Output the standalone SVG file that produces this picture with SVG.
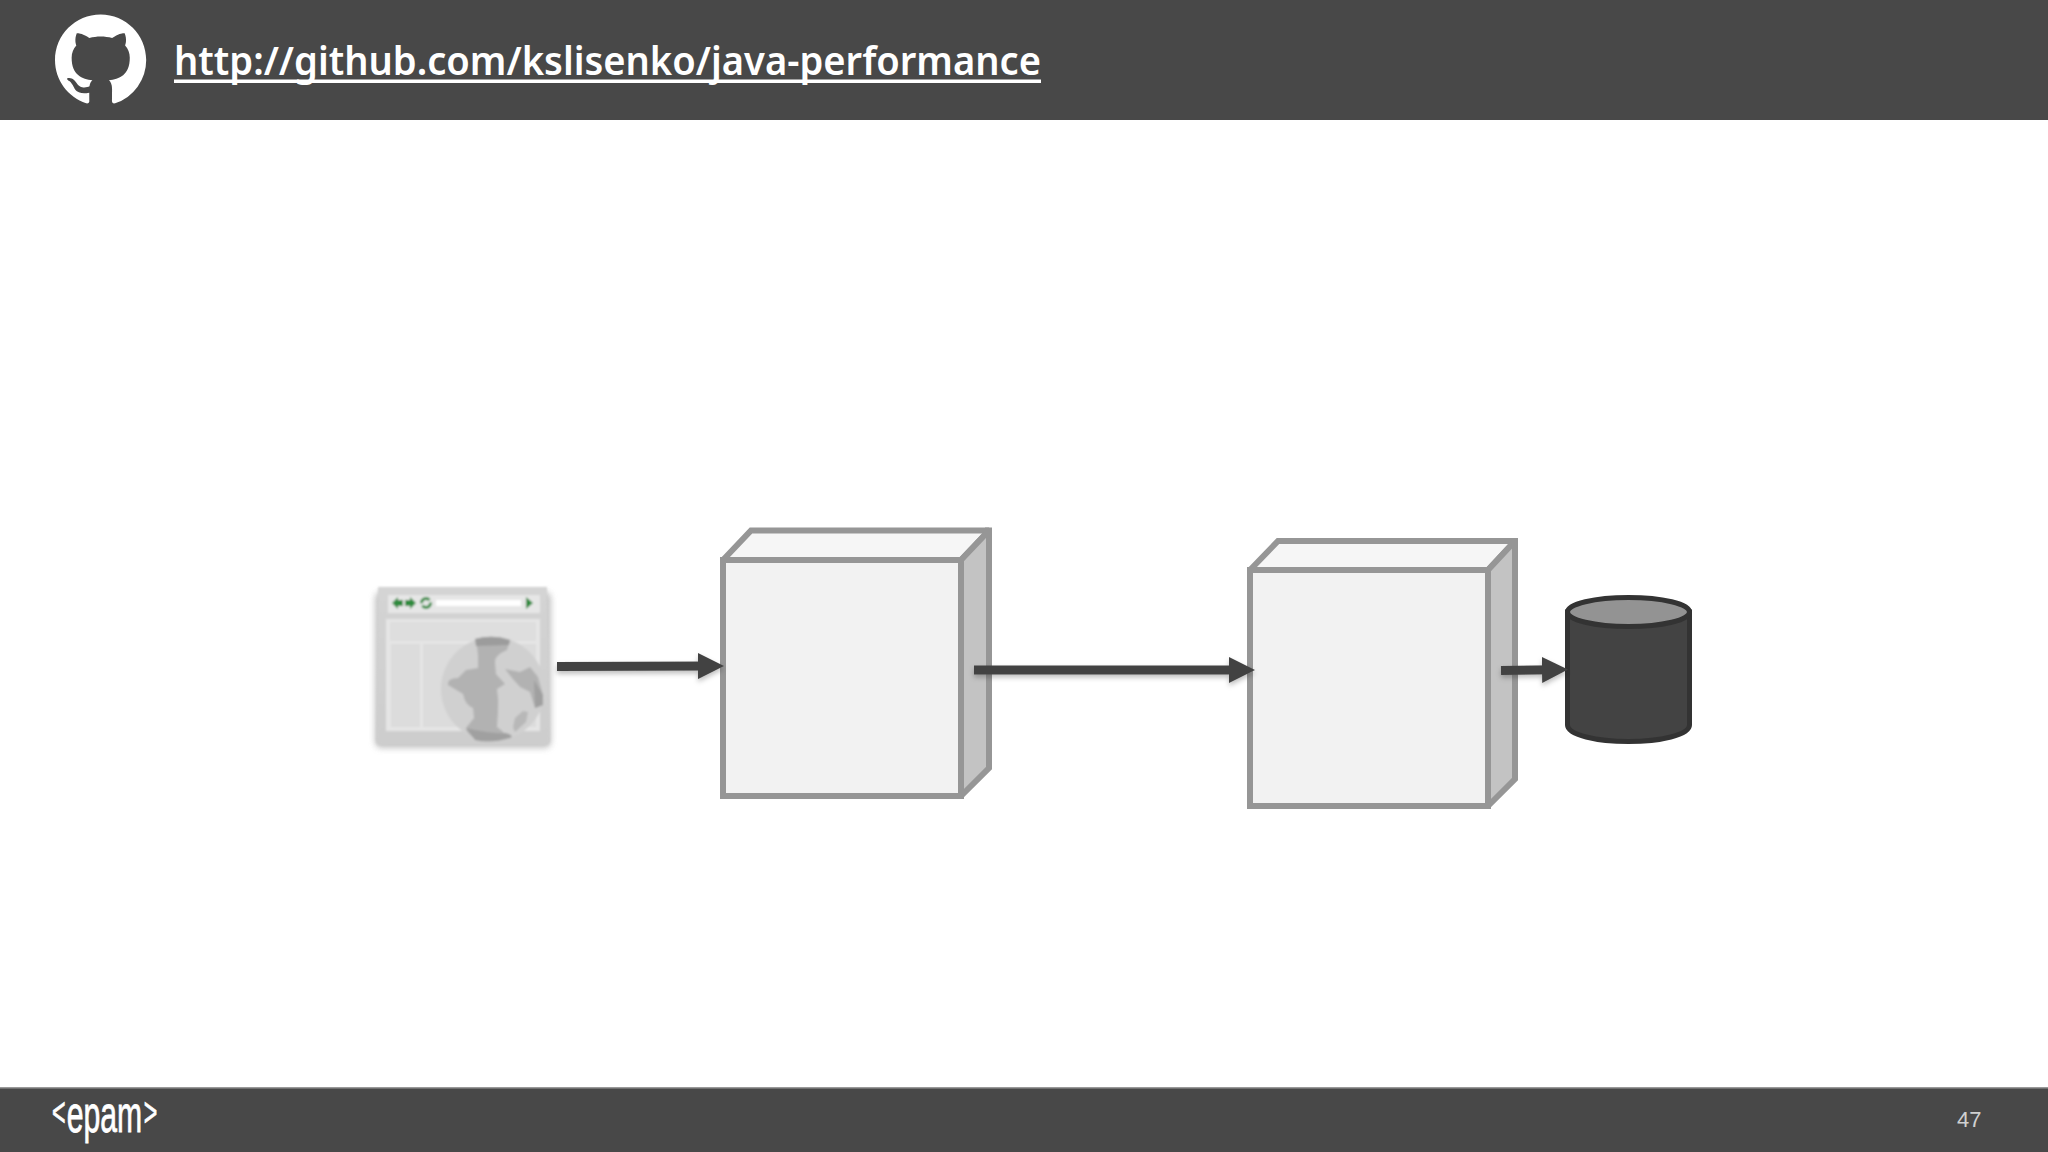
<svg xmlns="http://www.w3.org/2000/svg" width="2048" height="1152" viewBox="0 0 2048 1152">
<style>
.bar{fill:#484848}
.front{fill:#f2f2f2;stroke:#969696;stroke-width:6}
.top{fill:#f6f6f6;stroke:#969696;stroke-width:6;stroke-miterlimit:2}
.side{fill:#c3c3c3;stroke:#969696;stroke-width:6;stroke-miterlimit:2}
.corner{fill:#969696}
.conn{fill:none;stroke:#434343;stroke-width:9;marker-end:url(#head)}
.url{font-family:"Noto Sans","Liberation Sans",sans-serif;font-size:39px;font-weight:600;fill:#fff}
</style>
<defs>
<marker id="head" markerUnits="userSpaceOnUse" markerWidth="26" markerHeight="26" refX="12" refY="13" orient="auto"><path d="M0 0L26 13L0 26Z" fill="#434343"/></marker>
<filter id="sh" filterUnits="userSpaceOnUse" x="540" y="630" width="1050" height="80"><feDropShadow dx="0" dy="3" stdDeviation="2.5" flood-color="#000" flood-opacity=".25"/></filter>
<filter id="soft" x="-10%" y="-10%" width="120%" height="120%"><feGaussianBlur stdDeviation="0.8"/></filter>
<filter id="iconsh" x="-10%" y="-10%" width="120%" height="120%"><feGaussianBlur stdDeviation="3"/></filter>
<linearGradient id="frame" x1="0" y1="0" x2="0" y2="1"><stop offset="0" stop-color="#d4d4d4"/><stop offset="1" stop-color="#cdcdcd"/></linearGradient>
</defs>
<rect width="2048" height="1152" fill="#fff"/>

<g id="header">
<rect class="bar" width="2048" height="120"/>
<path transform="translate(55,14.5) scale(5.7)" fill="#fff" d="M8 0C3.58 0 0 3.58 0 8c0 3.54 2.29 6.53 5.47 7.59.4.07.55-.17.55-.38 0-.19-.01-.82-.01-1.49-2.01.37-2.53-.49-2.69-.94-.09-.23-.48-.94-.82-1.13-.28-.15-.68-.52-.01-.53.63-.01 1.08.58 1.23.82.72 1.21 1.87.87 2.33.66.07-.52.28-.87.51-1.07-1.78-.2-3.64-.89-3.64-3.95 0-.87.31-1.59.82-2.15-.08-.2-.36-1.02.08-2.12 0 0 .67-.21 2.2.82.64-.18 1.32-.27 2-.27.68 0 1.36.09 2 .27 1.53-1.04 2.2-.82 2.2-.82.44 1.1.16 1.92.08 2.12.51.56.82 1.27.82 2.15 0 3.07-1.87 3.75-3.65 3.95.29.25.54.73.54 1.48 0 1.07-.01 1.93-.01 2.2 0 .21.15.46.55.38A8.013 8.013 0 0016 8c0-4.42-3.58-8-8-8z"/>
<text class="url" x="174" y="75" textLength="867" lengthAdjust="spacingAndGlyphs">http://github.com/kslisenko/java-performance</text>
<rect x="174" y="79.5" width="867" height="3.5" fill="#fff"/>
</g>

<g id="browser">
<rect x="375" y="592" width="176" height="156" rx="6" fill="#aaa" filter="url(#iconsh)" opacity=".7"/>
<g filter="url(#soft)">
<path d="M378 587H547L550 740Q550 745 545 745H381Q376 745 376 740Z" fill="url(#frame)"/>
<rect x="388" y="595" width="152" height="18" fill="#e6e6e6"/>
<rect x="436" y="600" width="85" height="6" fill="#fff"/>
<path d="M392 603L398 597V600H403V606H398V609ZM416 603L410 597V600H405V606H410V609Z" fill="#2e8b3e"/>
<circle cx="426" cy="603" r="4.5" fill="none" stroke="#2e8b3e" stroke-width="3" stroke-dasharray="11 2.5"/>
<path d="M526 597L533 603L526 609Z" fill="#2e8b3e"/>
<rect x="386" y="619" width="154" height="112" fill="#e5e5e5"/>
<rect x="390" y="622" width="146" height="19" fill="#dedede"/>
<rect x="391" y="644" width="29" height="83" fill="#dcdcdc"/>
<rect x="423" y="644" width="113" height="83" fill="#dcdcdc"/>
<circle cx="493" cy="689" r="52" fill="#d0d0d0"/>
<path d="M475 639Q493 634 510 640L507 650Q495 655 495 662L496 674L505 684L497 689Q499 700 498 712L497 727Q506 733 506 738Q490 744 475 738Q466 733 466 728L474 718L473 708Q465 705 463 694L448 685Q447 678 458 678L466 670L478 668L478 655Q477 645 475 639Z" fill="#b2b2b2"/>
<path d="M475 639Q493 634 510 640L509 645L476 646Z" fill="#9c9c9c"/>
<path d="M466 728Q490 734 506 733Q515 736 510 738Q490 744 475 740Z" fill="#a0a0a0"/>
<path d="M505 669L520 672L530 667L538 677L543 695L543 705L535 708L530 692L520 687L512 678Z" fill="#b2b2b2"/>
<path d="M534 680L543 695L543 705L535 708Z" fill="#a0a0a0"/>
<path d="M513 727L515 718L523 711L528 712L526 722L515 732Z" fill="#b8b8b8"/>
</g>
</g>

<g id="server-1">
<path class="top" d="M723 560L751 530.5H989L961 560Z"/>
<path class="side" d="M961 560L989 530.5V768L961 796Z"/>
<rect class="corner" x="985" y="527.5" width="7" height="7"/>
<rect class="front" x="723" y="560" width="238" height="236"/>
</g>

<g id="server-2">
<path class="top" d="M1250 570L1278 541H1515L1488 570Z"/>
<path class="side" d="M1488 570L1515 541V779L1488 806Z"/>
<rect class="corner" x="1511" y="538" width="7" height="7"/>
<rect class="front" x="1250" y="570" width="238" height="236"/>
</g>

<g id="database">
<path d="M1567.5 612V725C1567.5 735 1597 741.5 1628.5 741.5S1689.5 735 1689.5 725V612Z" fill="#434343" stroke="#333" stroke-width="5"/>
<ellipse cx="1628.5" cy="612" rx="61" ry="14.5" fill="#939393" stroke="#333" stroke-width="5"/>
</g>

<g id="connectors" filter="url(#sh)">
<path class="conn" d="M557 666.5L710 666"/>
<path class="conn" d="M974 670H1241"/>
<path class="conn" d="M1501 670.5L1554 669.7"/>
</g>

<g id="footer">
<rect class="bar" y="1088" width="2048" height="64"/>
<rect y="1087" width="2048" height="1.5" fill="#999"/>
<text transform="translate(52,1132) scale(.58,1)" font-family="Liberation Sans, sans-serif" font-size="52" fill="#fff" stroke="#fff" stroke-width=".8"><tspan font-size="40" dy="-6">&lt;</tspan><tspan dy="6" dx="2">epam</tspan><tspan font-size="40" dy="-6" dx="3">&gt;</tspan></text>
<text x="1957" y="1127" font-family="Liberation Sans, sans-serif" font-size="22" fill="#d0d0d0">47</text>
</g>
</svg>
